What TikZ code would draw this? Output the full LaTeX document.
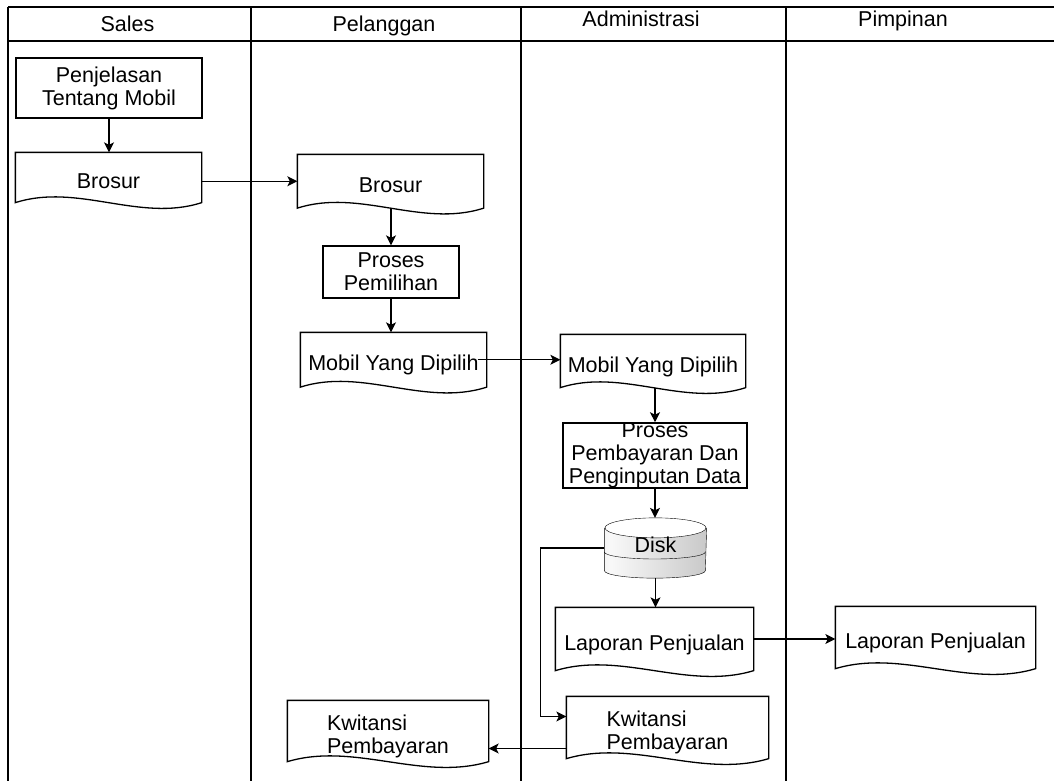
\documentclass[tikz,border=0pt]{standalone}
\usepackage{fontspec}
\setmainfont{Liberation Sans}
\usetikzlibrary{arrows.meta,calc,backgrounds}
\newcommand{\flowfont}{\fontsize{21.5}{23}\selectfont}
\newcommand{\docstrut}{\rule{0pt}{26pt}}
\pgfdeclarehorizontalshading{diskshade}{100bp}{color(0bp)=(gray!35); color(28bp)=(gray!5); color(100bp)=(gray!62)}
\tikzset{
  procbox/.style 2 args={draw, minimum width=#1, minimum height=#2, inner sep=0pt, align=center},
  docbox/.style 2 args={minimum width=#1, minimum height=#2, inner sep=0pt},
  doctext/.style={text height=26pt, text depth=4pt},
  diskbox/.style={minimum width=101pt, minimum height=59pt, inner sep=0pt, text depth=6pt},
  lanehead/.style={anchor=base}
}
\begin{document}
\begin{tikzpicture}[x=1pt, y=-1pt, font=\flowfont, line width=1.3pt,
    >={Stealth[length=10pt,width=10pt,inset=2.5pt]}]
  \useasboundingbox (0,0) rectangle (1054,781);
  % swimlanes
  \draw (8,7) -- (1054,7) (8,41) -- (1054,41);
  \foreach \x in {8,251,521,786}
    \draw (\x,7) -- (\x,781);
  \node[lanehead] (hSales) at (127.5,31.5) {Sales};
  \node[lanehead] (hPelanggan) at (384,31.5) {Pelanggan};
  \node[lanehead] (hAdmin) at (641,27) {Administrasi};
  \node[lanehead] (hPimpinan) at (903,27) {Pimpinan};
  % Sales
  \node[procbox={186pt}{60pt}] (penj) at (109,88) {Penjelasan\\Tentang Mobil};
  \node[docbox={185pt}{49pt}, doctext] (brosurS) at (108.5,177.5) {Brosur};
  % Pelanggan
  \node[docbox={185pt}{52.5pt}, doctext] (brosurP) at (390.5,181.25) {Brosur};
  \node[procbox={136pt}{52pt}] (pemil) at (391,272) {Proses\\Pemilihan};
  \node[docbox={185pt}{53.5pt}, doctext] (mobilP) at (393.5,359.75) {Mobil Yang Dipilih};
  \node[docbox={200pt}{60pt}, align=left] (kwitP) at (388,731) {\docstrut Kwitansi\\Pembayaran};
  % Administrasi
  \node[docbox={184pt}{52pt}, doctext] (mobilA) at (653,361) {Mobil Yang Dipilih};
  \node[procbox={184pt}{65pt}] (bayar) at (655,455.5) {Proses\\Pembayaran Dan\\Penginputan Data};
  \node[diskbox] (disk) at (655.5,548) {Disk};
  \node[docbox={197pt}{62pt}, doctext] (laporA) at (654.5,639) {Laporan Penjualan};
  \node[docbox={201pt}{61pt}, align=left] (kwitA) at (667.5,727.5) {\docstrut Kwitansi\\Pembayaran};
  % Pimpinan
  \node[docbox={199pt}{61pt}, doctext] (laporM) at (935.5,637.5) {Laporan Penjualan};
  % document outlines
  \foreach \d in {brosurS,brosurP,mobilP,mobilA,laporA,laporM,kwitA,kwitP}
    \draw (\d.south west) -- (\d.north west) -- (\d.north east) -- (\d.south east)
      .. controls ($(\d.south east)!0.333!(\d.south west)+(0,20)$)
      and ($(\d.south east)!0.667!(\d.south west)+(0,-20)$) .. (\d.south west) -- cycle;
  % disk
  \begin{scope}[on background layer]
    \shade[shading=diskshade] ($(disk.north west)+(0,10)$) -- ($(disk.south west)+(0,-7.5)$)
      arc[start angle=180, end angle=0, x radius=50.5, y radius=7.5]
      -- ($(disk.north east)+(0,10)$) -- cycle;
    \draw ($(disk.north west)+(0,10)$) -- ($(disk.south west)+(0,-7.5)$)
      arc[start angle=180, end angle=0, x radius=50.5, y radius=7.5]
      -- ($(disk.north east)+(0,10)$);
    \draw ($(disk.west)+(0,4)$) arc[start angle=180, end angle=0, x radius=50.5, y radius=7];
    \draw[fill=white] ($(disk.north)+(0,10)$) ellipse[x radius=50.5, y radius=10];
  \end{scope}
  % flows
  \draw[->] (penj.south) -- (penj.south |- brosurS.north);
  \draw[->] (brosurS.east |- brosurP.west) -- (brosurP.west);
  \draw[->] (pemil.north |- brosurP.south) -- (pemil.north);
  \draw[->] (pemil.south) -- (pemil.south |- mobilP.north);
  \draw[->] ([xshift=-9pt]mobilP.east) -- (mobilA.west |- mobilP.east);
  \draw[->] (bayar.north |- mobilA.south) -- (bayar.north);
  \draw[->] (bayar.south) -- (bayar.south |- disk.north);
  \draw[->] (disk.south) -- (disk.south |- laporA.north);
  \draw[->] (laporA.east) -- (laporM.west |- laporA.east);
  \draw[->] (disk.west) -- ++(-64,0) |- ([yshift=11pt]kwitA.west);
  \coordinate (kwitOut) at ([yshift=-21pt]kwitA.west);
  \draw[->] (kwitOut) -- (kwitP.east |- kwitOut);
\end{tikzpicture}
\end{document}
